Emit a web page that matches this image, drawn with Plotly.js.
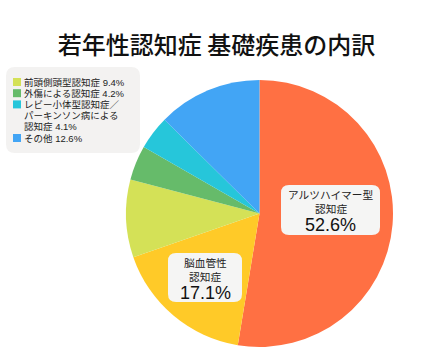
<!DOCTYPE html>
<html>
<head>
<meta charset="utf-8">
<script src="https://cdn.plot.ly/plotly-3.0.1.min.js"></script>
<style>html,body{margin:0;padding:0;background:#fff;}#chart{width:433px;height:361px;}</style>
</head>
<body>
<div id="chart"></div>
<script>
// ---- data ----
var categories = ["アルツハイマー型認知症", "脳血管性認知症", "前頭側頭型認知症", "外傷による認知症", "レビー小体型認知症／パーキンソン病による認知症", "その他"];
var values = [52.6, 17.1, 9.4, 4.2, 4.1, 12.6];
var sliceColors = ["#FF7043", "#FFCA28", "#D4E157", "#66BB6A", "#26C6DA", "#42A5F5"];
// inside labels (first two categories)
var insideLabelLines = [["アルツハイマー型", "認知症"], ["脳血管性", "認知症"]];
// legend (remaining categories)
var legendIndex = [2, 3, 4, 5];
var legendLines = [["前頭側頭型認知症 9.4%"], ["外傷による認知症 4.2%"], ["レビー小体型認知症／", "パーキンソン病による", "認知症 4.1%"], ["その他 12.6%"]];
var titleText = "若年性認知症 基礎疾患の内訳";

// ---- layout helpers ----
var W = 433, H = 361;
var FONT = "Noto Sans CJK JP, Noto Sans, sans-serif";
var LFONT = "Liberation Sans, Noto Sans CJK JP, sans-serif";
function px(x) { return x / W; }
function py(y) { return 1 - y / H; }
function roundRect(x0, y0, x1, y1, r, fill) {
  var rx = r / W, ry = r / H;
  var X0 = px(x0), X1 = px(x1), Y0 = py(y0), Y1 = py(y1);
  var p = "M" + (X0 + rx) + "," + Y0 +
    " L" + (X1 - rx) + "," + Y0 +
    " Q" + X1 + "," + Y0 + " " + X1 + "," + (Y0 - ry) +
    " L" + X1 + "," + (Y1 + ry) +
    " Q" + X1 + "," + Y1 + " " + (X1 - rx) + "," + Y1 +
    " L" + (X0 + rx) + "," + Y1 +
    " Q" + X0 + "," + Y1 + " " + X0 + "," + (Y1 + ry) +
    " L" + X0 + "," + (Y0 - ry) +
    " Q" + X0 + "," + Y0 + " " + (X0 + rx) + "," + Y0 + " Z";
  return {type: "path", xref: "paper", yref: "paper", path: p, fillcolor: fill, line: {width: 0}, layer: "above"};
}

var shapes = [];
var annotations = [];

// legend box
shapes.push(roundRect(6, 67, 140, 153, 9, "#F3F2F1"));
var LFS = 9.5, LH = 11.2, firstY = 82;
var lineNo = 0;
for (var i = 0; i < legendIndex.length; i++) {
  var yc = firstY + lineNo * LH;
  shapes.push({type: "rect", xref: "paper", yref: "paper", x0: px(13), x1: px(21), y0: py(yc - 4), y1: py(yc + 4),
    fillcolor: sliceColors[legendIndex[i]], line: {width: 0}, layer: "above"});
  for (var j = 0; j < legendLines[i].length; j++) {
    annotations.push({xref: "paper", yref: "paper", x: px(21.5), y: py(firstY + lineNo * LH),
      xanchor: "left", yanchor: "middle", showarrow: false, text: legendLines[i][j],
      font: {family: LFONT, size: LFS, color: "#222"}});
    lineNo++;
  }
}

// inside label boxes
var boxes = [
  {x0: 281, y0: 185, x1: 380, y1: 235},
  {x0: 168, y0: 253, x1: 242, y1: 302}
];
for (var k = 0; k < boxes.length; k++) {
  var b = boxes[k];
  shapes.push(roundRect(b.x0, b.y0, b.x1, b.y1, 8, "#F5F5F4"));
  var cx = px((b.x0 + b.x1) / 2);
  annotations.push({xref: "paper", yref: "paper", x: cx, y: py(b.y0 + 10), xanchor: "center", yanchor: "middle",
    showarrow: false, text: insideLabelLines[k][0], font: {family: LFONT, size: 10.7, color: "#222"}});
  annotations.push({xref: "paper", yref: "paper", x: cx, y: py(b.y0 + 23.5), xanchor: "center", yanchor: "middle",
    showarrow: false, text: insideLabelLines[k][1], font: {family: LFONT, size: 10.7, color: "#222"}});
  annotations.push({xref: "paper", yref: "paper", x: cx, y: py(b.y0 + 40), xanchor: "center", yanchor: "middle",
    showarrow: false, text: values[k].toFixed(1) + "%", font: {family: LFONT, size: 18, color: "#111"}});
}

var trace = {
  type: "pie",
  labels: categories,
  values: values,
  sort: false,
  direction: "clockwise",
  rotation: 0,
  marker: {colors: sliceColors, line: {width: 0}},
  textinfo: "none",
  hoverinfo: "label+percent",
  showlegend: false,
  domain: {x: [px(126), px(393)], y: [py(347), py(80)]}
};

var layout = {
  width: W, height: H,
  margin: {l: 0, r: 0, t: 0, b: 0},
  paper_bgcolor: "#ffffff",
  showlegend: false,
  title: {text: titleText, x: 0.5, xanchor: "center", y: py(46), yanchor: "middle", yref: "paper",
    font: {family: FONT, size: 24, color: "#111", weight: 500}},
  shapes: shapes,
  annotations: annotations
};

Plotly.newPlot("chart", [trace], layout, {staticPlot: true, displayModeBar: false});
</script>
</body>
</html>
